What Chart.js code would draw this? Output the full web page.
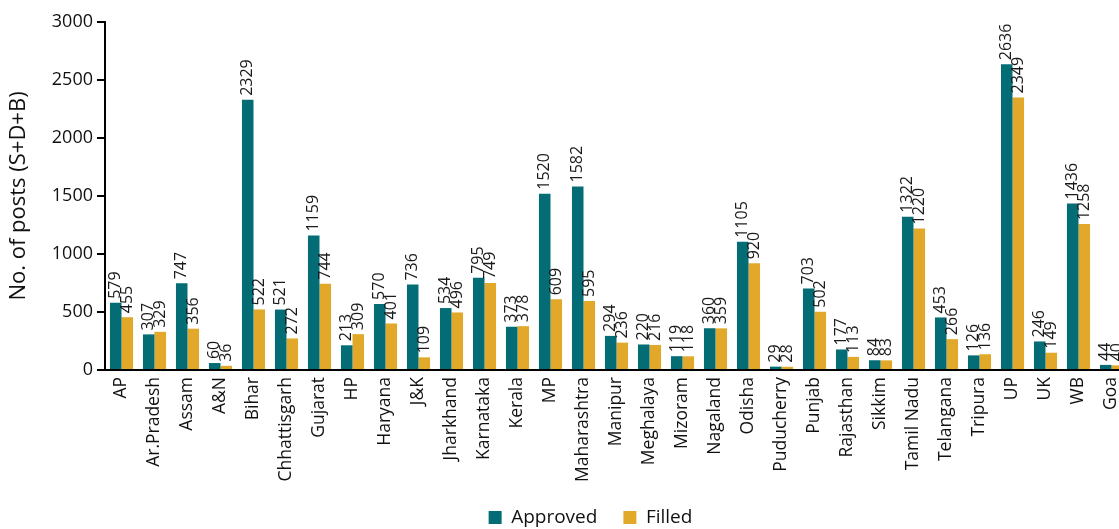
<!DOCTYPE html>
<html>
<head>
<meta charset="utf-8">
<script src="https://cdn.jsdelivr.net/npm/chart.js@4.4.1/dist/chart.umd.min.js"></script>
<style>
  html, body { margin: 0; padding: 0; background: #fff; overflow: hidden; }
  #wrap { width: 1128px; height: 529px; position: relative; }
</style>
</head>
<body>
<div id="wrap"><canvas id="grafico"></canvas></div>
<script>
var estados = ["AP", "Ar.Pradesh", "Assam", "A&N", "Bihar", "Chhattisgarh", "Gujarat", "HP", "Haryana", "J&K",
  "Jharkhand", "Karnataka", "Kerala", "MP", "Maharashtra", "Manipur", "Meghalaya", "Mizoram", "Nagaland", "Odisha",
  "Puducherry", "Punjab", "Rajasthan", "Sikkim", "Tamil Nadu", "Telangana", "Tripura", "UP", "UK", "WB", "Goa"];
var aprovados = [579, 307, 747, 60, 2329, 521, 1159, 213, 570, 736,
  534, 795, 373, 1520, 1582, 294, 220, 119, 360, 1105,
  29, 703, 177, 84, 1322, 453, 126, 2636, 246, 1436, 44];
var preenchidos = [455, 329, 356, 36, 522, 272, 744, 309, 401, 109,
  496, 749, 378, 609, 595, 236, 216, 118, 359, 920,
  28, 502, 113, 83, 1220, 266, 136, 2349, 149, 1258, 40];
var ticksY = [0, 500, 1000, 1500, 2000, 2500, 3000];

var fonte = "'Open Sans', 'Noto Sans', sans-serif";

// valores escritos na vertical em cima de cada barra
var rotulos = {
  id: 'rotulos',
  afterDatasetsDraw: function (chart) {
    var ctx = chart.ctx;
    ctx.save();
    ctx.fillStyle = '#1a1a1a';
    ctx.font = '16px ' + fonte;
    ctx.textAlign = 'left';
    ctx.textBaseline = 'middle';
    chart.data.datasets.forEach(function (ds, i) {
      chart.getDatasetMeta(i).data.forEach(function (bar, j) {
        ctx.save();
        ctx.translate(bar.x, bar.y - 4);
        ctx.rotate(-Math.PI / 2);
        ctx.fillText(String(ds.data[j]), 0, 0);
        ctx.restore();
      });
    });
    ctx.restore();
  }
};

// legenda um pouco para a esquerda do centro da area
var legendaDesloc = {
  id: 'legendaDesloc',
  afterLayout: function (chart) {
    var l = chart.legend;
    l.left -= 26;
    l.right -= 26;
  }
};

var grafico = new Chart(document.getElementById('grafico').getContext('2d'), {
  type: 'bar',
  data: {
    labels: estados,
    datasets: [{
      label: 'Approved',
      data: aprovados,
      backgroundColor: '#036c74',
      categoryPercentage: 0.7,
      barPercentage: 1.0
    }, {
      label: 'Filled',
      data: preenchidos,
      backgroundColor: '#e1a82a',
      categoryPercentage: 0.7,
      barPercentage: 1.0
    }]
  },
  options: {
    responsive: true,
    maintainAspectRatio: false,
    animation: false,
    layout: { padding: { top: 22, left: 0, right: 0, bottom: 0 } },
    plugins: {
      tooltip: { enabled: false },
      legend: {
        position: 'bottom',
        fullSize: false,
        maxHeight: 47,
        labels: {
          boxWidth: 13,
          boxHeight: 13,
          padding: 26,
          color: '#111',
          font: { family: fonte, size: 19 }
        }
      }
    },
    scales: {
      x: {
        offset: true,
        afterFit: function (scale) {
          scale.height = 112;
          scale.paddingLeft = 0;
          scale.paddingRight = 0;
        },
        grid: { display: false, drawTicks: false },
        border: { color: '#000', width: 2 },
        ticks: {
          autoSkip: false,
          maxRotation: 90,
          minRotation: 90,
          padding: 7,
          color: '#111',
          font: { family: fonte, size: 17.5 }
        }
      },
      y: {
        min: 0,
        max: 3000,
        afterBuildTicks: function (axis) {
          axis.ticks = ticksY.map(function (v) { return { value: v }; });
        },
        afterFit: function (scale) { scale.width = 105; },
        grid: { drawOnChartArea: false, drawTicks: true, tickLength: 8, color: '#000', lineWidth: 2 },
        border: { color: '#000', width: 2 },
        title: {
          display: true,
          text: 'No. of posts (S+D+B)',
          color: '#111',
          font: { family: fonte, size: 22 },
          padding: { top: 6, bottom: 4 }
        },
        ticks: {
          color: '#111',
          padding: 4,
          font: { family: fonte, size: 18 },
          callback: function (v) { return String(v); }
        }
      }
    }
  },
  plugins: [rotulos, legendaDesloc]
});
</script>
</body>
</html>
